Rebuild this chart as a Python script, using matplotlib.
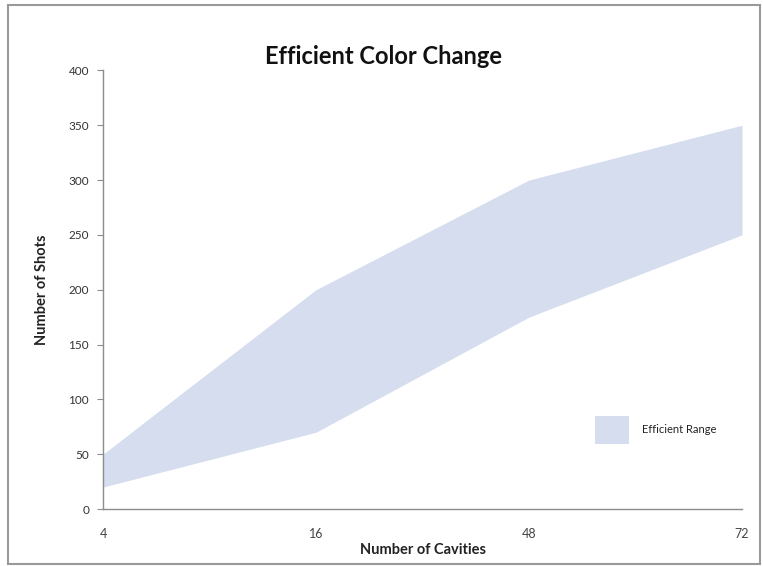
import matplotlib
matplotlib.use("Agg")
import matplotlib.pyplot as plt
from matplotlib.patches import Patch, Rectangle
import numpy as np

categories = ["4", "16", "48", "72"]
lower = [20, 70, 175, 250]
upper = [50, 200, 300, 350]
yticks = [0, 50, 100, 150, 200, 250, 300, 350, 400]

plt.rcParams['font.family'] = ['Lato', 'DejaVu Sans']

fig = plt.figure(figsize=(7.63, 5.66), dpi=100)
ax = fig.add_axes([0.135, 0.1007, 0.8375, 0.775])

x = np.arange(len(categories))
band_color = "#D5DDEF"
ax.fill_between(x, lower, upper, color=band_color, linewidth=0)

ax.set_xlim(0, len(categories) - 1)
ax.set_ylim(0, 400)
ax.set_xticks(x)
ax.set_xticklabels(categories)
ax.set_yticks(yticks)

for s in ["top", "right"]:
    ax.spines[s].set_visible(False)
for s in ["left", "bottom"]:
    ax.spines[s].set_color("#8c8c8c")
    ax.spines[s].set_linewidth(1.0)

ax.tick_params(axis="y", direction="out", length=4, color="#8c8c8c", labelsize=8.5, labelcolor="#333333", pad=6)
ax.tick_params(axis="x", length=0, labelsize=9, labelcolor="#444444", pad=14)

ax.set_ylabel("Number of Shots", fontsize=10.5, fontweight="bold", color="#222222", labelpad=14)
ax.set_xlabel("Number of Cavities", fontsize=10.5, fontweight="bold", color="#222222", labelpad=2)

fig.text(0.502, 0.900, "Efficient Color Change", ha="center", va="center", fontsize=17, fontweight="bold", color="#111111")

leg = ax.legend(handles=[Patch(facecolor=band_color, edgecolor="none", label="Efficient Range")],
                loc="center left", bbox_to_anchor=(0.755, 0.18), frameon=False,
                fontsize=8, handlelength=3.0, handleheight=3.6, handletextpad=1.2)
for t in leg.get_texts():
    t.set_color("#222222")

fig.patches.append(Rectangle((0.011, 0.004), 0.985, 0.988, transform=fig.transFigure,
                             fill=False, edgecolor="#999999", linewidth=1.5))

fig.savefig("out.png", dpi=100)
